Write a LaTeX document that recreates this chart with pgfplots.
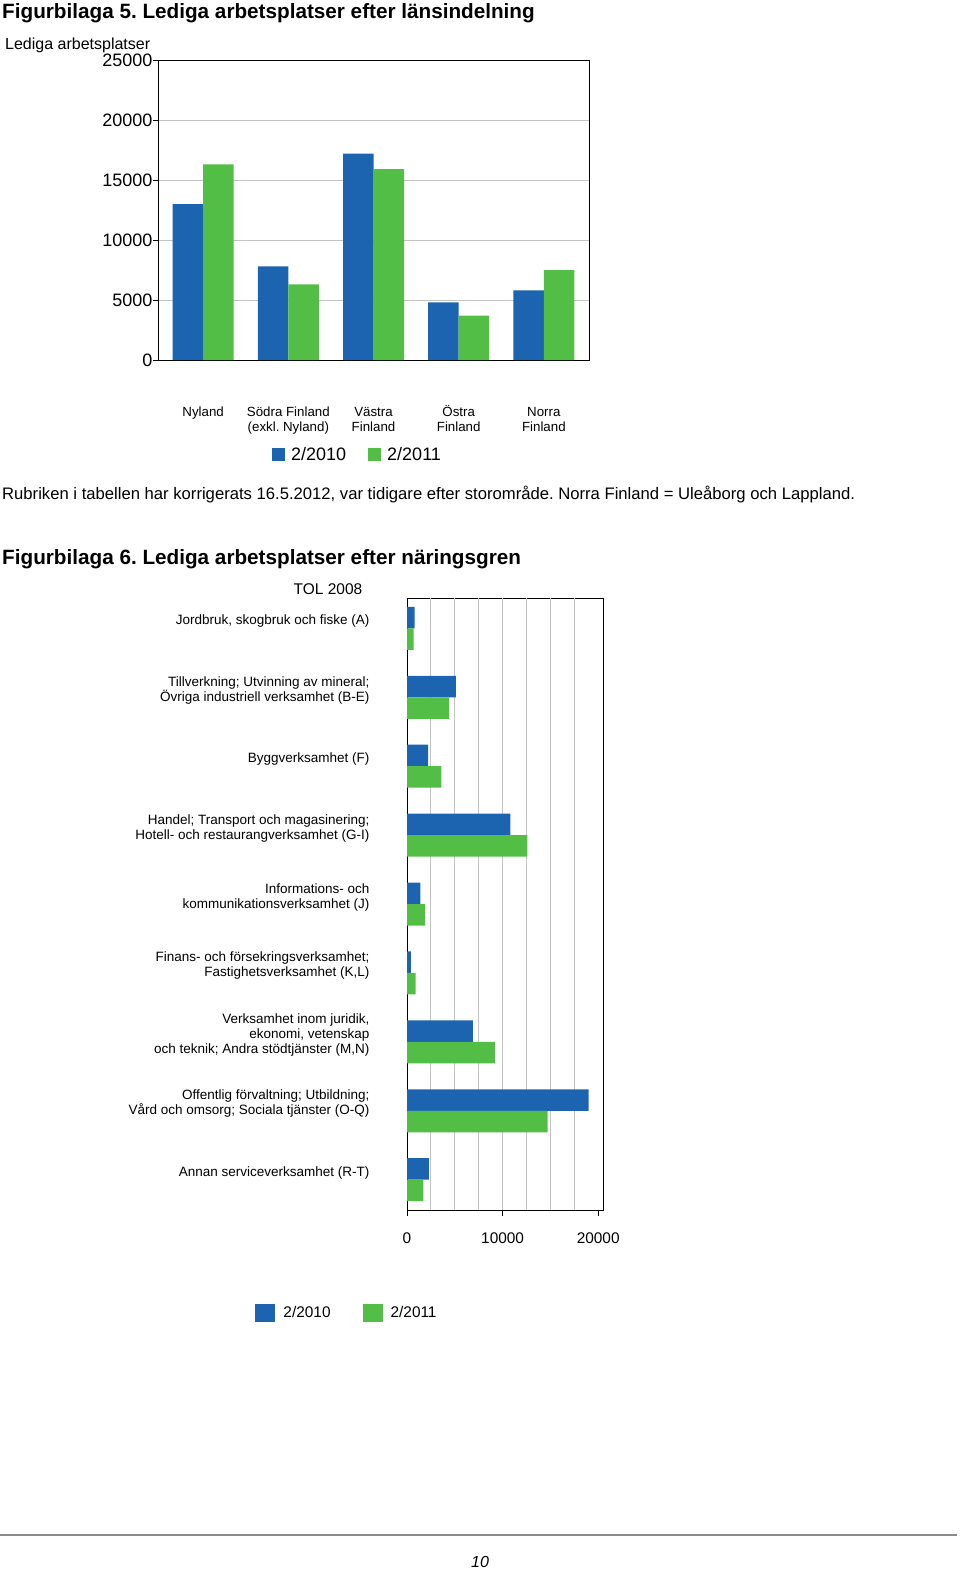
\documentclass[border=0pt]{standalone}
\usepackage{fontspec}
\setmainfont{Liberation Sans}
\usepackage{pgfplots}
\pgfplotsset{compat=1.18}
\definecolor{cblue}{RGB}{28,100,176}
\definecolor{cgreen}{RGB}{82,190,70}
\definecolor{cgrid}{RGB}{195,195,195}
\newcommand\st{\rule{0pt}{12.5pt}}
\frenchspacing
\begin{document}
\begin{tikzpicture}[x=1pt,y=1pt]
\path[use as bounding box] (0,0) rectangle (960,-1572);
\node[anchor=base west, inner sep=0, font=\bfseries\fontsize{20.7}{24}\selectfont] at (2,-18) {Figurbilaga 5. Lediga arbetsplatser efter länsindelning};
\node[anchor=base west, inner sep=0, font=\fontsize{16}{19}\selectfont] at (5,-49) {Lediga arbetsplatser};
\node[anchor=base west, inner sep=0, font=\fontsize{16.65}{19}\selectfont] at (2,-499) {Rubriken i tabellen har korrigerats 16.5.2012, var tidigare efter storområde. Norra Finland = Uleåborg och Lappland.};
\node[anchor=base west, inner sep=0, font=\bfseries\fontsize{20.7}{24}\selectfont] at (2,-564) {Figurbilaga 6. Lediga arbetsplatser efter näringsgren};
\node[anchor=base, inner sep=0, font=\fontsize{15.5}{18}\selectfont] at (328,-594) {TOL 2008};
\draw[black!45, line width=2pt] (0,-1535) -- (957,-1535);
\node[anchor=base, inner sep=0, font=\itshape\fontsize{16}{18}\selectfont] at (480,-1567) {10};

\begin{axis}[
 at={(158pt,-360pt)}, anchor=south west,
 scale only axis, width=431pt, height=300pt,
 ymin=0, ymax=25000, ytick={0,5000,...,25000},
 xmin=-0.53, xmax=4.53, xtick={0,...,4},
 xticklabels={\st Nyland, \st Södra Finland\\(exkl. Nyland), \st Västra\\Finland, \st Östra\\Finland, \st Norra\\Finland},
 x tick label style={align=center, font=\fontsize{13.3}{15}\selectfont, yshift=-35pt},
 y tick label style={font=\fontsize{18}{20}\selectfont, xshift=3pt},
 /pgf/number format/assume math mode=true,
 /pgf/number format/1000 sep={},
 scaled y ticks=false,
 ytick pos=left, xtick pos=bottom,
 ymajorgrids, grid style={cgrid, line width=1pt},
 axis line style={black, line width=1pt},
 xtick style={draw=none},
 ytick style={black, line width=1pt},
 tick align=outside, major tick length=5pt,
 ybar=0pt, bar width=30.5pt,
 legend columns=2,
 legend style={draw=none, fill=none, at={(0.463,-0.315)}, anchor=center,
   font=\fontsize{18}{20}\selectfont,
   /tikz/every odd column/.append style={column sep=4pt},
   /tikz/every even column/.append style={column sep=20pt}},
]
\addplot[fill=cblue, draw=none, legend image code/.code={\fill[cblue] (0pt,-6.5pt) rectangle (13pt,6.5pt);}] coordinates {(0,13000) (1,7800) (2,17200) (3,4800) (4,5800)};
\addplot[fill=cgreen, draw=none, legend image code/.code={\fill[cgreen] (0pt,-6.5pt) rectangle (13pt,6.5pt);}] coordinates {(0,16300) (1,6300) (2,15900) (3,3700) (4,7500)};
\legend{2/2010, 2/2011}
\end{axis}

\begin{axis}[
 at={(407pt,-1210pt)}, anchor=south west,
 scale only axis, width=196pt, height=612pt,
 xmin=0, xmax=20500, xtick={0,10000,20000},
 extra x ticks={2500,5000,...,17500}, extra x tick labels={},
 extra x tick style={grid=major, major tick length=0pt},
 grid style={cgrid, line width=1pt},
 ymin=-0.44, ymax=8.44, y dir=reverse, ytick={0,...,8},
 yticklabels={{Jordbruk, skogbruk och fiske (A)},
  {Tillverkning; Utvinning av mineral;\\Övriga industriell verksamhet (B-E)},
  {Byggverksamhet (F)},
  {Handel; Transport och magasinering;\\Hotell- och restaurangverksamhet (G-I)},
  {Informations- och\\kommunikationsverksamhet (J)},
  {Finans- och försekringsverksamhet;\\Fastighetsverksamhet (K,L)},
  {Verksamhet inom juridik,\\ekonomi, vetenskap\\och teknik; Andra stödtjänster (M,N)},
  {Offentlig förvaltning; Utbildning;\\Vård och omsorg; Sociala tjänster (O-Q)},
  {Annan serviceverksamhet (R-T)}},
 y tick label style={align=right, font=\fontsize{13.5}{15}\selectfont, yshift=7pt, xshift=-28pt},
 x tick label style={font=\fontsize{15.4}{18}\selectfont, yshift=-13pt},
 /pgf/number format/assume math mode=true,
 /pgf/number format/1000 sep={},
 scaled x ticks=false,
 xtick pos=bottom, ytick pos=left,
 axis line style={black, line width=1pt},
 ytick style={draw=none},
 xtick style={black, line width=1pt},
 tick align=outside, major tick length=6pt,
 xbar=0pt, bar width=21.5pt,
 legend columns=2,
 legend style={draw=none, fill=none, at={(-0.306,-0.168)}, anchor=center,
   font=\fontsize{15.4}{18}\selectfont,
   /tikz/every odd column/.append style={column sep=6pt},
   /tikz/every even column/.append style={column sep=30pt}},
]
\addplot[fill=cblue, draw=none, bar shift=10.75pt, legend image code/.code={\fill[cblue] (0pt,-9pt) rectangle (20pt,9pt);}] coordinates {(800,0) (5100,1) (2200,2) (10800,3) (1400,4) (400,5) (6900,6) (19000,7) (2300,8)};
\addplot[fill=cgreen, draw=none, bar shift=-10.75pt, legend image code/.code={\fill[cgreen] (0pt,-9pt) rectangle (20pt,9pt);}] coordinates {(700,0) (4400,1) (3600,2) (12600,3) (1900,4) (900,5) (9200,6) (14700,7) (1700,8)};
\legend{2/2010, 2/2011}
\end{axis}
\end{tikzpicture}
\end{document}
